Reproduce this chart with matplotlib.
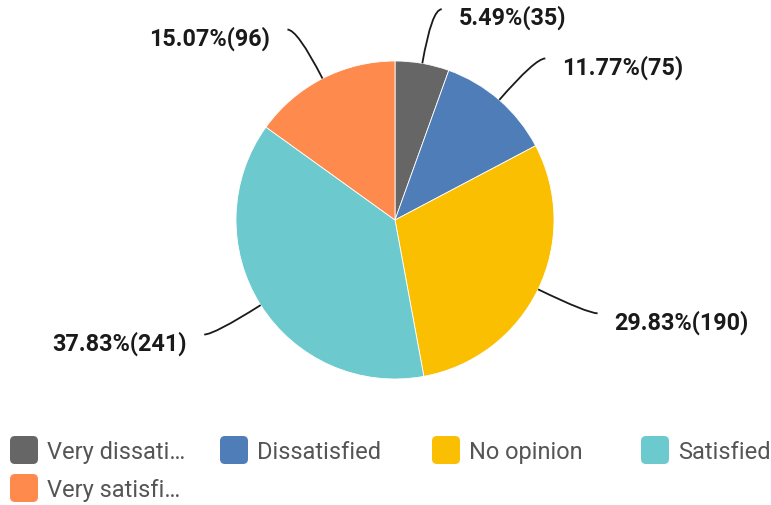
#bibliotecas
import numpy as np
import matplotlib.pyplot as plt
from matplotlib.path import Path
from matplotlib.patches import PathPatch, FancyBboxPatch

plt.rcParams['font.family'] = ['Roboto', 'DejaVu Sans']

# dados
categorias = ['Very dissatisfied', 'Dissatisfied', 'No opinion', 'Satisfied', 'Very satisfied']
legenda = ['Very dissati…', 'Dissatisfied', 'No opinion', 'Satisfied', 'Very satisfi…']
valores = [35, 75, 190, 241, 96]
cores = ['#666666', '#4f7db8', '#f9bf00', '#6cc9cd', '#ff8a4d']

W, H = 771, 506  # tamanho em pixels
fig = plt.figure(figsize=(W / 100, H / 100), dpi=100)
ax = fig.add_axes([0, 0, 1, 1])

cx, cy, r = 395, H - 221, 159  # centro e raio da pizza
wedges, _ = ax.pie(valores, colors=cores, startangle=90, counterclock=False,
                   center=(cx, cy), radius=r, frame=True,
                   wedgeprops=dict(edgecolor='white', linewidth=0.6))
ax.set_xlim(0, W)
ax.set_ylim(0, H)
ax.set_aspect('equal')
ax.axis('off')

total = sum(valores)
L1, L2 = 55, 10  # comprimentos da linha guia

for w, v in zip(wedges, valores):
    ang = np.deg2rad((w.theta1 + w.theta2) / 2)
    d = np.array([np.cos(ang), np.sin(ang)])
    p0 = np.array([cx, cy]) + r * d
    p1 = p0 + L1 * d
    s = 1 if d[0] >= 0 else -1
    p2 = p1 + np.array([s * L2, 0])
    path = Path([p0, p1, p2], [Path.MOVETO, Path.CURVE3, Path.CURVE3])
    ax.add_patch(PathPatch(path, fill=False, edgecolor='#1a1a1a', lw=1.3))
    ax.text(p2[0] + s * 17, p2[1] - 8, f"{v / total * 100:.2f}%({v})",
            ha='left' if s > 0 else 'right', va='center',
            fontsize=16.8, fontweight='bold', color='#1a1a1a')

# legenda feita a mao
xs = [10, 220, 432, 641, 10]
ys = [H - 451, H - 451, H - 451, H - 451, H - 489]
for nome, cor, x, y in zip(legenda, cores, xs, ys):
    ax.add_patch(FancyBboxPatch((x + 3, y - 11), 22, 22,
                                boxstyle='round,pad=3,rounding_size=5',
                                facecolor=cor, edgecolor='none'))
    ax.text(x + 37, y - 1.5, nome, ha='left', va='center', fontsize=17,
            color='#555555')

fig.savefig('out.png', dpi=100)
